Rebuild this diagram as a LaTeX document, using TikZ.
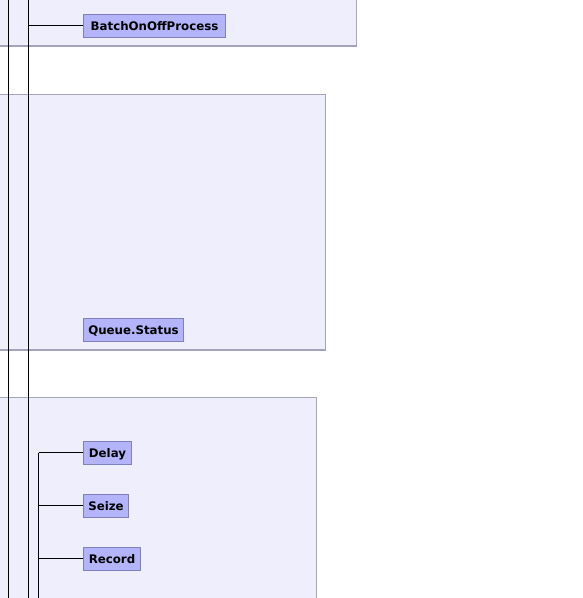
\documentclass[tikz,border=0pt]{standalone}
\usepackage{fontspec}
\setmainfont{DejaVu Sans}
\definecolor{panelfill}{HTML}{EEEEFC}
\definecolor{panelline}{HTML}{A4A4B8}
\definecolor{boxfill}{HTML}{B4B4FA}
\definecolor{boxline}{HTML}{7F7FC0}
\tikzset{
  panel/.style={fill=panelfill, draw=panelline, line width=1.2pt},
  blk/.style={fill=boxfill, draw=boxline, line width=1pt, anchor=west,
    minimum height=23pt, inner xsep=0pt, inner ysep=0pt,
    text height=10.6pt, text depth=0pt,
    font=\fontsize{11.8}{13}\selectfont\bfseries},
  wire/.style={black, line width=1.2pt}
}
\begin{document}
\begin{tikzpicture}[x=1pt,y=-1pt]
\useasboundingbox (0,0) rectangle (583,598);
\clip (0,0) rectangle (583,598);
% panels
\draw[panel] (-10,-10) rectangle (356.5,46);
\draw[panel] (-10,94.5) rectangle (325.5,350);
\draw[panel] (-10,397.5) rectangle (316.5,610);
% trunk coordinates
\coordinate (v1t) at (8.5,-2);
\coordinate (v1b) at (8.5,600);
\coordinate (v2t) at (28.5,-2);
\coordinate (v2b) at (28.5,600);
\coordinate (v3t) at (38.5,452.5);
\coordinate (v3b) at (38.5,600);
\draw[wire] (v1t) -- (v1b);
\draw[wire] (v2t) -- (v2b);
\draw[wire] (v3t) -- (v3b);
% boxes
\node[blk, minimum width=142pt] (bop) at (83,25.5) {BatchOnOffProcess};
\node[blk, minimum width=100pt] (qs) at (83,329.5) {Queue.Status};
\node[blk, minimum width=48pt] (delay) at (83,452.5) {Delay};
\node[blk, minimum width=45pt] (seize) at (83,505.5) {Seize};
\node[blk, minimum width=57pt] (record) at (83,558.5) {Record};
% connectors
\coordinate (j1) at (28.5,25.5);
\coordinate (j2) at (38.5,452.5);
\coordinate (j3) at (38.5,505.5);
\coordinate (j4) at (38.5,558.5);
\draw[wire] (j1) -- (bop.west);
\draw[wire] (j2) -- (delay.west);
\draw[wire] (j3) -- (seize.west);
\draw[wire] (j4) -- (record.west);
\end{tikzpicture}
\end{document}
